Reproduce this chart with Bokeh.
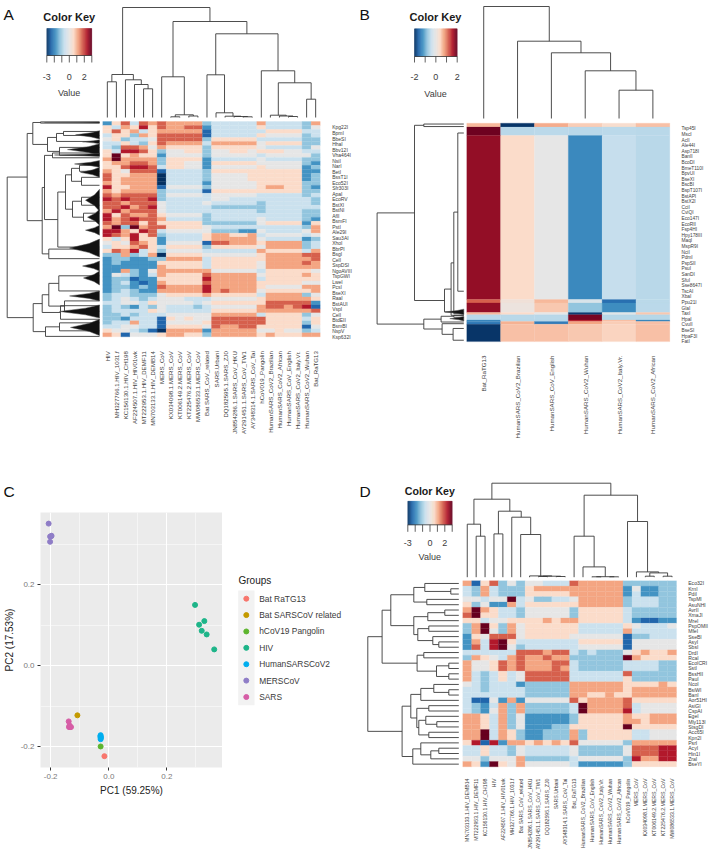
import numpy as np
from bokeh.plotting import figure
from bokeh.layouts import row, column
from bokeh.models import Range1d, FixedTicker, LinearColorMapper, NumeralTickFormatter
from bokeh.core.properties import value
from bokeh.embed import file_html
from bokeh.resources import INLINE

FONT = "Liberation Sans"

# ---------- panel A data ----------
a_columns = ["HIV", "MH327766.1.HIV_1031.f", "KC156130.1.HIV_CH198", "AF224507.1.HIV_HIV01wk", "MT222953.1.HIV_DEMF11",
             "MN703133.1.HIV_DEMB14", "MERS_CoV", "KX034098.1.MERS_CoV", "KT006149.2.MERS_CoV", "KT225476.2.MERS_CoV",
             "MW086533.1.MERS_CoV", "Bat SARS_CoV_related", "SARS.Urbani", "DQ182595.1.SARS_ZJ0", "JN854286.1.SARS_CoV_HKU",
             "AY291451.1.SARS_CoV_TW1", "AY348314.1.SARS_CoV_Tai", "hCoV019_Pangolin", "HumanSARS_CoV2_Brazilian",
             "HumanSARS_CoV2_African", "HumanSARS_CoV_English", "HumanSARS_CoV2_Italy.Vr.", "HumanSARS_CoV2_Wuhan", "Bat_RaTG13"]
a_row_labels = ["Kpg22I", "BpmI", "BbeSI", "HhaI", "Bbv12I", "Vha464I", "NsiI", "NarI", "BetI", "BssT1I", "Eco52I", "Sfr303I", "ApaI",
                "EcoRV", "BstXI", "BstNI", "AflI", "BsmFI", "PstI", "Ale29I", "Sau3AI", "XhoI", "BbrPI", "BsgI", "CelI", "SspDSI",
                "NgoAVIII", "TspGWI", "LweI", "PcsI", "BseXI", "RaaI", "BstAUI", "VspI", "CelI", "BtdEII", "BsmBI", "NspV", "Ksp632I"]
# levels 0..9,x stand for -3.0 .. +3.0 in steps of 0.6
a_levels = [
 "268487 8 7777 3 44444 7 4444 3 7", "647696 8 7788 2 44444 6 4444 3 5", "686746 7 7777 1 44444 4 6666 4 4",
 "466376 8 8888 1 44444 6 5555 3 4", "563445 8 8888 3 66666 4 4444 3 3", "446436 8 7777 4 77777 5 6666 3 3",
 "438875 7 6666 3 66666 5 4444 3 5", "649986 3 5566 3 55665 6 6655 4 4", "6x6766 2 5555 3 55555 4 5555 5 3",
 "7x7777 3 6666 2 44444 5 4444 3 3", "677887 3 6655 2 66666 5 5555 3 2", "668998 4 6655 2 55555 6 5555 2 3",
 "765888 1 4444 3 66666 6 6666 2 2", "866777 0 4444 3 55556 6 6666 2 3", "867777 0 4444 3 55556 6 6666 2 3",
 "767777 0 4444 2 55555 6 6666 3 3", "966777 1 5555 3 55555 6 7766 3 2", "767777 3 4444 1 66666 6 6666 3 3",
 "878888 3 5555 4 55555 4 4444 3 4", "989889 3 4444 4 55444 4 4444 4 3", "887888 5 4444 5 44444 3 4444 4 3",
 "889789 5 4444 4 33333 3 4444 4 4", "797888 5 4444 4 44444 3 4444 3 3", "968778 6 5555 3 44444 4 4444 3 3",
 "978988 7 4444 3 44444 5 4444 3 2", "878868 6 6666 3 33333 5 6666 2 6", "7x3x78 8 6666 5 44444 4 4444 3 7",
 "997698 4 5555 5 33322 5 4444 5 7", "987968 3 4444 6 77667 4 5555 4 5", "646966 2 4444 6 77777 5 4444 2 3",
 "565876 2 5555 1 88777 6 7777 3 4", "466786 4 6666 3 66666 5 7777 3 4", "687946 3 5555 4 44444 7 6666 4 7",
 "337347 0 6666 5 55555 6 7777 8 8", "233223 3 7777 4 66666 6 7777 7 8", "232222 6 6666 4 66666 5 7777 8 7",
 "222222 7 6666 4 66666 5 7777 7 7", "227325 7 7777 7 55555 4 6666 6 5", "254324 7 6666 8 77777 5 6666 7 6",
 "233122 6 6666 9 77777 4 6666 6 6", "234212 7 6666 8 77777 6 6666 5 5", "233232 8 7777 9 77777 6 5555 7 7",
 "234322 7 7777 9 78777 5 6666 6 7", "344333 5 6666 7 66666 4 7777 3 5", "345434 5 5544 4 55555 6 7777 7 6",
 "445546 5 5554 5 66666 6 8888 8 2", "343243 5 4443 4 55555 7 8878 9 1", "344446 5 4444 4 66666 7 7777 7 8",
 "334344 4 5555 5 77777 4 6666 3 5", "332444 1 6565 5 88888 8 6666 4 6", "344744 1 5555 6 88888 8 6666 3 6",
 "445544 1 6666 5 87788 6 6666 1 5", "655431 0 7777 2 77777 5 5655 3 4", "761555 6 7766 3 77777 6 7666 7 7",
]
a_col_tree = (110, (43, (35.7, 0, 1), (37.7, 2, (33, 3, (28.7, 4, 5)))),
              (96, (40.7, 6, (2.7, (0.7, 7, 8), (1.5, 9, 10))),
               (83.7, (42.7, 11, (4.7, 12, (1.3, 13, (1, 14, (0.7, 15, 16))))),
                (46.7, 17, (34.7, (2.3, 18, (1.5, 19, (1, 20, 21))), (18.3, 22, 23))))))
a_row_tree = (92.3,
    (72.3,
     (66.7, (59, 0.1, 0.4), (52, (43, (36, 2.5, 3.5), 5), (40, 6.5, 8.5))),
     (57.3,
      (55, (47, 7.9, 9.1),
       (41.7, (34, (28, (20, 11, 12.5), (18, 14, 16)), (27, (18, 19, 21), (16, 23, 25))), 31.5)),
      (50.7, 32, 34.4))),
    (66.3,
     (57.3, (50.7, (40.7, 38.7, 42.5), (35, 45, 47.6)), (39, 46.2, 49.6)),
     (54, (40, 50.5, 52.5), 53.9)))
a_mass_top = [0.1, 2.3, 4.6, 5.6, 8.0, 9.8, 11.5, 17.0, 22.0, 26.0, 29.5, 35.0, 37.5, 42.5, 46.0, 49.6]
a_mass_bottom = [0.4, 4.4, 5.6, 8.5, 8.8, 11.5, 14.0, 22.5, 26.0, 28.5, 34.0, 37.5, 41.0, 45.0, 49.3, 53.7]
a_mass_depth = [55, 24, 17, 32, 45, 25, 19, 14, 12, 14, 30, 17, 16, 30, 40, 29]

# ---------- panel B data ----------
b_columns = ["Bat_RaTG13", "HumanSARS_CoV2_Brazilian", "HumanSARS_CoV_English", "HumanSARS_CoV2_Wuhan",
             "HumanSARS_CoV2_Italy.Vr.", "HumanSARS_CoV2_African"]
b_row_labels = ["Tsp45I", "MscI", "AclI", "Ale44I", "Asp718I", "BanII", "BcoDI", "BmeT110I", "BpvUI", "BseXI", "BscBI", "BspT107I",
                "BstAPI", "BstX2I", "CciI", "CviQI", "Eco147I", "EcoRII", "Fsp4HI", "Hpy178III", "MaqI", "MspR9I", "NciI", "PdmI",
                "PspSII", "PsuI", "SanDI", "SfuI", "Sse8647I", "TscAI", "XbaI", "Ppu21I", "GlaI", "TaxI", "HpaI", "CvuII", "BseSI",
                "HpaF3I", "FatI"]
b_block_sizes = [1.4, 3.0, 58.6, 1.2, 3.4, 0.8, 1.9, 0.5, 1.0, 6.2]
b_values = [
 [0.65, -1.95, 0.75, 0.50, 0.35, 0.60],
 [1.95, -0.52, -0.50, -0.52, -0.50, -0.52],
 [1.76, 0.40, 0.00, -1.28, -0.44, -0.52],
 [1.20, 0.20, 0.65, -0.20, -1.50, -0.50],
 [1.76, 0.10, 0.55, -0.80, -1.25, -0.50],
 [0.65, 0.40, 0.00, -1.90, -0.10, 0.55],
 [-0.52, -0.52, -0.52, 1.90, -0.55, -0.55],
 [-1.30, -0.52, -0.52, 1.50, 0.60, -1.30],
 [-1.40, 0.70, -1.40, 0.80, 0.50, 0.60],
 [-1.95, 0.60, 0.60, 0.55, 0.45, 0.60],
]
b_col_tree = (112, 0, (77.3, 1, (65.7, 2, (47.7, 3, (28.3, 4, 5)))))
b_row_tree = (86.7,
    (49.3, (40, 0.3, 1.2), (19.3, (12.7, (10, (6, 3.5, 60), 68), 68.6), 67.4)),
    (40, (22.7, (10, 68.6, 69.3), 71), (21.7, 71.6, (10.7, 73.3, 77.5))))
b_mass_top = [66.4, 69.0]
b_mass_bottom = [68.4, 70.6]
b_mass_depth = [19, 14]

# ---------- panel C data ----------
group_names = ["Bat RaTG13", "Bat SARSCoV related", "hCoV19 Pangolin", "HIV", "HumanSARSCoV2", "MERSCoV", "SARS"]
group_colors = ["#F8766D", "#C49A00", "#5DB52E", "#1DB589", "#00AEEF", "#8F7DC7", "#D65DA6"]
pc1 = [[-0.015], [-0.108], [-0.028],
       [0.297, 0.329, 0.311, 0.320, 0.337, 0.363],
       [-0.028, -0.029, -0.027, -0.028, -0.028],
       [-0.207, -0.202, -0.197, -0.198, -0.202],
       [-0.138, -0.137, -0.133, -0.130, -0.135]]
pc2 = [[-0.224], [-0.123], [-0.200],
       [0.150, 0.110, 0.101, 0.086, 0.077, 0.040],
       [-0.172, -0.175, -0.177, -0.179, -0.182],
       [0.351, 0.319, 0.321, 0.320, 0.306],
       [-0.138, -0.152, -0.152, -0.152, -0.148]]
pc_ticks = [-0.2, 0.0, 0.2]
pc1_minor = [-0.1, 0.1, 0.3]
pc2_minor = [-0.1, 0.1, 0.3]

# ---------- panel D data ----------
d_columns = ["MN703133.1.HIV_DEMB14", "MT222953.1.HIV_DEMF11", "KC156130.1.HIV_CH198", "HIV", "AF224507.1.HIV_HIV01wk",
             "MH327766.1.HIV_1031.f", "Bat SARS_CoV_related", "JN854286.1.SARS_CoV_HKU", "AY291451.1.SARS_CoV_TW1",
             "DQ182595.1.SARS_ZJ0", "SARS.Urbani", "AY348314.1.SARS_CoV_Tai", "Bat_RaTG13", "HumanSARS_CoV2_Brazilian",
             "HumanSARS_CoV_English", "HumanSARS_CoV2_Italy.Vr.", "HumanSARS_CoV2_Wuhan", "HumanSARS_CoV2_African",
             "hCoV019_Pangolin", "MERS_CoV", "KX034098.1.MERS_CoV", "KT006149.2.MERS_CoV", "KT225476.2.MERS_CoV", "MW086533.1.MERS_CoV"]
d_row_labels = ["Eco32I", "KrnI", "PdiI", "TspMI", "AsuNHI", "AvrII", "XmaJI", "MreI", "PspOMII", "MfeI", "SseBI", "AsyI", "SbsI", "DrdI",
                "RcaI", "EcoICRI", "SstI", "BssHII", "PauI", "NcoI", "BsiWI", "BanI", "Aor51HI", "AsiGI", "CspAI", "EgeI", "Mly113I",
                "StsgDI", "Acc65I", "Kpn2I", "PsrI", "AcyI", "Hin1I", "ZraI", "BseYI"]
d_levels = [
 "716835 3 55444 8 77777 3 33333", "437433 3 67777 7 77777 2 52233", "437433 3 66666 7 77777 2 42233",
 "55455x 4 53344 5 77777 3 44433", "635227 4 66666 6 77777 3 44433", "7x7644 3 55555 3 66666 4 33333",
 "8x6644 3 55555 3 66666 4 33333", "664556 6 66767 7 66666 4 21122", "37x637 5 66666 6 44444 6 54445",
 "37x537 5 66666 6 44444 7 44444", "265888 5 66666 5 55555 1 33444", "2749x6 4 44444 4 66666 1 55555",
 "2849x5 3 44444 4 55555 1 55555", "444444 8 88788 4 34333 5 67667", "376547 8 77877 3 33333 x 76666",
 "755687 8 77788 4 33333 4 44433", "755687 8 77787 4 33333 4 44433", "743464 5 88888 4 44444 8 33333",
 "743464 5 88888 4 44444 6 33333", "543444 2 33333 7 77777 6 66676", "443444 4 33333 7 77777 6 77777",
 "444444 4 33333 7 76676 6 77777", "411527 2 55555 8 67777 8 66666", "432473 7 33333 4 x7777 8 45555",
 "432573 7 33333 4 x7777 9 45555", "776473 5 22222 3 66666 7 66777", "776473 5 22222 3 66666 7 76777",
 "776473 5 22233 6 66666 x 66666", "77x476 3 22333 7 36666 6 44555", "77x476 3 22333 7 36666 6 44555",
 "691927 7 67676 8 55555 3 77777", "446443 5 44444 5 33333 5 88899", "446443 5 44444 5 33333 5 88899",
 "553555 7 33333 4 55555 3 97799", "762x65 7 55555 4 22222 3 66666",
]
d_col_tree = (94,
    (78, (53, 0, (41, 1, 2)), (66, (43.3, 3, 4), (60, 5, (42.7, 6, (1.3, 7, (1, (0.7, 8, 9), (0.7, 10, 11))))))),
    (82, (41, 12, (10.3, 13, (0.5, (0.4, 14, 15), (0.4, 16, 17)))),
     (55.7, 18, (5.3, 19, (4.3, (1, 20, 21), (1, 22, 23))))))
d_row_tree = (91,
    (76.7,
     (68, (45, (34, 0.5, (8, 1.5, 2.5)), (32, 3.5, 4.5)),
      (45, (31, (14, 5.5, 6.5), 7.5), (41, (30, 8.5, 9.5), (26, 10.5, (20, 11.5, 12.5))))),
     (41.7, (35, 13.5, 14.5), (22.3, (10, 15.5, 16.5), (10, 17.5, 18.5)))),
    (56.7,
     (48, (38, (25, 19.5, (10, 20.5, 21.5)), 22.5),
      (42, (30, 23.5, 24.5), (40, (33, 25.5, (22, 26.5, 27.5)), (30, 28.5, 29.5)))),
     (46, (38, 30.5, (28, (20, 31.5, 32.5), 33.5)), 34.5)))

a_key_ticks = [-3, -2, -1, 0, 1, 2, 3]
b_key_ticks = [-2, -1, 0, 1, 2]
d_key_ticks = [-3, -2, -1, 0, 1, 2, 3]
a_key_labels = [-3, 0, 2]
b_key_labels = [-2, 0, 2]
d_key_labels = [-3, 0, 2]

# ---------- colours ----------
anchors = ["#053061", "#2166AC", "#4393C3", "#92C5DE", "#CBE1EE", "#E6E6E6", "#FBDCCA", "#F4A582", "#D6604D", "#B2182B", "#67001F"]
def hex2rgb(h):
    return np.array([int(h[i:i + 2], 16) for i in (1, 3, 5)], dtype=float)
anchor_rgb = np.array([hex2rgb(h) for h in anchors])
t = np.linspace(0, 10, 221)
palette = ["#%02x%02x%02x" % tuple(int(round(np.interp(v, np.arange(11), anchor_rgb[:, c]))) for c in range(3)) for v in t]

def parse_levels(rows):
    out = []
    for r in rows:
        s = r.replace(" ", "")
        out.append([(10 if ch == "x" else int(ch)) * 0.6 - 3.0 for ch in s])
    return np.array(out)

def fit(d0, d1, p0, p1, P0, P1):
    k = (d1 - d0) / (p1 - p0)
    return Range1d(start=d0 + (P0 - p0) * k, end=d0 + (P1 - p0) * k)

PAGES = {}
def new_panel(x0, x1, y0, y1):
    p = figure(width=x1 - x0, height=y1 - y0, x_range=Range1d(x0, x1), y_range=Range1d(y1, y0),
               output_backend="svg", toolbar_location=None, min_border=0, frame_align=False,
               x_axis_type=None, y_axis_type=None, outline_line_color=None, background_fill_color=None)
    p.grid.visible = False
    PAGES[p.id] = (x0, x1, y0, y1)
    return p

def tree_segments(node, off):
    xs0, xs1, hs0, hs1 = [], [], [], []
    def walk(n):
        if not isinstance(n, tuple):
            return n + off, 0.0
        h, a, b = n
        pa, ha = walk(a)
        pb, hb = walk(b)
        xs0.extend([pa, pa, pb]); xs1.extend([pb, pa, pb])
        hs0.extend([h, ha, hb]); hs1.extend([h, h, h])
        return (pa + pb) / 2, h
    walk(node)
    return xs0, xs1, hs0, hs1

TXT = "#3c3c3c"
LINE = "#3a3a3a"

def txt(p, x, y, s, size, align="left", base="middle", angle=0.0, color=TXT, style="normal", **kw):
    p.text(x=x, y=y, text=s, text_font=value(FONT), text_font_size=value(size), text_align=align, text_baseline=base,
           angle=angle, text_color=color, text_font_style=style, **kw)

def heat_rows(p, x0, x1, y0, y1, ncols, nrows, name):
    P0, P1, Q0, Q1 = PAGES[p.id]
    p.extra_x_ranges[name + "x"] = fit(0, ncols, x0, x1, P0, P1)
    p.extra_y_ranges[name + "y"] = fit(0, nrows, y0, y1, Q1, Q0)

def draw_cells(p, left, right, top, bottom, vals, mapper, name):
    src = dict(left=left, right=right, top=top, bottom=bottom, v=vals)
    p.quad(left="left", right="right", top="top", bottom="bottom", source=src,
           fill_color={"field": "v", "transform": mapper}, line_color={"field": "v", "transform": mapper}, line_width=0.25,
           x_range_name=name + "x", y_range_name=name + "y")

def draw_key(p, x0, x1, y0, y1, tick_end, ticks, labels, low, high, cx, title_y, tick_label_y, value_y, title_size):
    P0, P1, Q0, Q1 = PAGES[p.id]
    p.extra_x_ranges["key"] = fit(low, high, x0, x1, P0, P1)
    edges = np.linspace(low, high, 91)
    mapper = LinearColorMapper(palette=palette, low=low, high=high)
    src = dict(left=edges[:-1], right=edges[1:], v=(edges[:-1] + edges[1:]) / 2,
               top=[y0] * 90, bottom=[y1] * 90)
    p.quad(left="left", right="right", top="top", bottom="bottom", source=src,
           fill_color={"field": "v", "transform": mapper}, line_color={"field": "v", "transform": mapper}, line_width=0.3,
           x_range_name="key")
    p.segment(x0=ticks, x1=ticks, y0=[y1] * len(ticks), y1=[tick_end] * len(ticks), line_color=LINE, line_width=0.8, x_range_name="key")
    p.segment(x0=[low], x1=[high], y0=[y1], y1=[y1], line_color=LINE, line_width=0.8, x_range_name="key")
    txt(p, labels, [tick_label_y] * len(labels), [str(v) for v in labels], "9px", align="center", x_range_name="key")
    txt(p, [cx], [title_y], ["Color Key"], title_size, align="center", color="#1a1a1a", style="bold")
    txt(p, [cx], [value_y], ["Value"], "9px", align="center")

def draw_col_tree(p, tree, base):
    P0, P1, Q0, Q1 = PAGES[p.id]
    p.extra_y_ranges["colh"] = fit(0, 100, base, base - 100, Q1, Q0)
    x0, x1, h0, h1 = tree_segments(tree, 0.5)
    p.segment(x0=x0, x1=x1, y0=h0, y1=h1, line_color=LINE, line_width=0.9, x_range_name="heatx", y_range_name="colh")

def draw_row_tree(p, tree, base, off):
    P0, P1, Q0, Q1 = PAGES[p.id]
    p.extra_x_ranges["rowh"] = fit(0, 100, base, base - 100, P0, P1)
    y0, y1, h0, h1 = tree_segments(tree, off)
    p.segment(x0=h0, x1=h1, y0=y0, y1=y1, line_color=LINE, line_width=0.9, x_range_name="rowh", y_range_name="heaty")

def draw_mass(p, tops, bottoms, depths):
    mass_x = [[0, 0, d * 0.35, d, d * 0.35] for d in depths]
    mass_y = [[t0, t1, (t0 + t1) / 2 + (t1 - t0) * 0.25, (t0 + t1) / 2, (t0 + t1) / 2 - (t1 - t0) * 0.25] for t0, t1 in zip(tops, bottoms)]
    p.patches(xs=mass_x, ys=mass_y, fill_color="#111111", line_color="#555555", line_width=0.5, x_range_name="rowh", y_range_name="heaty")

def letter(p, s, x, y):
    txt(p, [x], [y], [s], "15.5px", base="alphabetic", color="#111111")

def matrix_cells(m):
    nr, nc = m.shape
    left, right, top, bottom, v = [], [], [], [], []
    for i in range(nr):
        for j in range(nc):
            left.append(j); right.append(j + 1); top.append(i); bottom.append(i + 1); v.append(float(m[i, j]))
    return left, right, top, bottom, v

# ---------- panel A ----------
pa = new_panel(0, 353, 0, 470)
ma = parse_levels(a_levels)
heat_rows(pa, 102.3, 319.7, 121, 336.3, 24, ma.shape[0], "heat")
mapper3 = LinearColorMapper(palette=palette, low=-3, high=3)
draw_cells(pa, *matrix_cells(ma), mapper3, "heat")
draw_col_tree(pa, a_col_tree, 117)
draw_row_tree(pa, a_row_tree, 99, 0.0)
draw_mass(pa, a_mass_top, a_mass_bottom, a_mass_depth)
a_r = [1.5 + i * 1.382 for i in range(len(a_row_labels))]
txt(pa, [331.7] * len(a_row_labels), a_r, a_row_labels, "5px", y_range_name="heaty")
txt(pa, [i + 0.5 for i in range(24)], [350.7] * 24, a_columns, "6.1px", align="right", angle=np.pi / 2, x_range_name="heatx")
draw_key(pa, 46.3, 91.3, 28, 55, 62, a_key_ticks, a_key_labels, -3, 3, 68.7, 16.7, 76, 92.7, "11px")
letter(pa, "A", 3, 14)

# ---------- panel B ----------
pb = new_panel(353, 709, 0, 470)
heat_rows(pb, 466.3, 669.3, 122.7, 340.7, 6, 77.85, "heat")
edges_b = np.concatenate([[0], np.cumsum(b_block_sizes)])
left, right, top, bottom, v = [], [], [], [], []
for i, vals in enumerate(b_values):
    for j, val in enumerate(vals):
        left.append(j); right.append(j + 1); top.append(edges_b[i]); bottom.append(edges_b[i + 1]); v.append(val)
mapper2 = LinearColorMapper(palette=palette, low=-2, high=2)
draw_cells(pb, left, right, top, bottom, v, mapper2, "heat")
draw_col_tree(pb, b_col_tree, 118)
draw_row_tree(pb, b_row_tree, 463.3, 0.0)
draw_mass(pb, b_mass_top, b_mass_bottom, b_mass_depth)
b_r = [2.0 + i * 2.0 for i in range(len(b_row_labels))]
txt(pb, [681] * len(b_row_labels), b_r, b_row_labels, "4.8px", y_range_name="heaty")
txt(pb, [i + 0.5 for i in range(6)], [355] * 6, b_columns, "6.2px", align="right", angle=np.pi / 2, x_range_name="heatx")
draw_key(pb, 414, 456.7, 28.3, 56, 62, b_key_ticks, b_key_labels, -2, 2, 435, 16.5, 76.7, 93.7, "11px")
letter(pb, "B", 359, 14)

# ---------- panel C ----------
pc_head = new_panel(0, 222, 470, 512)
letter(pc_head, "C", 3, 491)

pc = figure(width=222, height=338, x_range=Range1d(-0.235, 0.3915), y_range=Range1d(-0.252, 0.3785),
            output_backend="svg", toolbar_location=None, frame_align=False,
            min_border_left=38, min_border_right=0, min_border_top=0, min_border_bottom=83,
            background_fill_color="#EBEBEB", outline_line_color=None,
            x_axis_label="PC1 (59.25%)", y_axis_label="PC2 (17.53%)")
for ax, minor in ((pc.xaxis[0], pc1_minor), (pc.yaxis[0], pc2_minor)):
    ax.ticker = FixedTicker(ticks=pc_ticks)
    ax.formatter = NumeralTickFormatter(format="0.0")
    ax.axis_line_color = None
    ax.major_tick_line_color = "#333333"
    ax.major_tick_in = 0
    ax.major_tick_out = 3
    ax.minor_tick_line_color = None
    ax.major_label_text_color = "#7a7a7a"
    ax.major_label_text_font = FONT
    ax.major_label_text_font_size = "8px"
    ax.major_label_standoff = 3
    ax.axis_label_text_font = FONT
    ax.axis_label_text_font_size = "10px"
    ax.axis_label_text_font_style = "normal"
    ax.axis_label_text_color = "#222222"
    ax.axis_label_standoff = 3
for g, minor in ((pc.xgrid[0], pc1_minor), (pc.ygrid[0], pc2_minor)):
    g.ticker = FixedTicker(ticks=pc_ticks, minor_ticks=minor)
    g.grid_line_color = "white"
    g.grid_line_width = 1
    g.minor_grid_line_color = "white"
    g.minor_grid_line_width = 0.5
for name, col, xs, ys in zip(group_names, group_colors, pc1, pc2):
    pc.scatter(xs, ys, size=5, color=col, line_color=col)

# legend of panel C, one key per group
pl = new_panel(222, 350, 470, 850)
n_groups = len(group_names)
pl.extra_y_ranges["keys"] = fit(0, n_groups, 590, 704.7, 850, 470)
pl.quad(left=[237.7], right=[254], top=[0], bottom=[n_groups], fill_color="#F2F2F2", line_color=None, y_range_name="keys")
key_r = [i + 0.5 for i in range(n_groups)]
pl.scatter(x=[245.8] * n_groups, y=key_r, size=5, color=group_colors, line_color=group_colors, y_range_name="keys")
txt(pl, [258.7] * n_groups, key_r, group_names, "8.4px", color="#3a3a3a", y_range_name="keys")
txt(pl, [238], [580], ["Groups"], "10px", color="#222222")

# ---------- panel D ----------
pd_ = new_panel(350, 709, 470, 850)
md = parse_levels(d_levels)
heat_rows(pd_, 462.3, 676, 580.3, 766.3, 24, md.shape[0], "heat")
draw_cells(pd_, *matrix_cells(md), mapper3, "heat")
draw_col_tree(pd_, d_col_tree, 576.7)
draw_row_tree(pd_, d_row_tree, 458.3, 0.0)
d_r = [i + 0.5 for i in range(len(d_row_labels))]
txt(pd_, [687.7] * len(d_row_labels), d_r, d_row_labels, "5.1px", y_range_name="heaty")
txt(pd_, [i + 0.5 for i in range(24)], [778] * 24, d_columns, "5.2px", align="right", angle=np.pi / 2, x_range_name="heatx")
draw_key(pd_, 407.3, 451.7, 500.7, 524.3, 531.3, d_key_ticks, d_key_labels, -3, 3, 429.3, 490.3, 542, 556.3, "10.6px")
letter(pd_, "D", 359, 491)

layout = column(row(pa, pb, spacing=0),
                row(column(pc_head, pc, spacing=0), pl, pd_, spacing=0),
                spacing=0, margin=(0, 0, 0, 0))
open("out.html", "w").write(file_html(layout, INLINE))
